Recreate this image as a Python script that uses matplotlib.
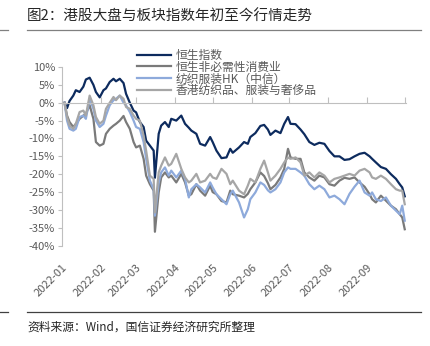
import pandas as pd
import matplotlib
matplotlib.use('Agg')
import matplotlib.pyplot as plt
import matplotlib.dates as mdates
from matplotlib.ticker import FuncFormatter

plt.rcParams['font.family'] = ['Noto Sans CJK SC', 'DejaVu Sans']

# sample dates (roughly every 2-4 days)
dates = pd.to_datetime([
    '2022-01-03', '2022-01-05', '2022-01-07', '2022-01-10', '2022-01-12',
    '2022-01-15', '2022-01-18', '2022-01-20', '2022-01-23', '2022-01-26',
    '2022-01-28', '2022-01-31', '2022-02-03', '2022-02-05', '2022-02-08',
    '2022-02-11', '2022-02-13', '2022-02-16', '2022-02-19', '2022-02-21',
    '2022-02-24', '2022-02-27', '2022-03-01', '2022-03-04', '2022-03-07',
    '2022-03-09', '2022-03-12', '2022-03-15', '2022-03-16', '2022-03-19',
    '2022-03-21', '2022-03-24', '2022-03-27', '2022-03-29', '2022-04-02',
    '2022-04-06', '2022-04-09', '2022-04-12', '2022-04-14', '2022-04-18',
    '2022-04-21', '2022-04-25', '2022-04-29', '2022-05-01', '2022-05-04',
    '2022-05-08', '2022-05-12', '2022-05-15', '2022-05-17',
    '2022-05-22', '2022-05-26', '2022-05-29', '2022-05-31', '2022-06-04',
    '2022-06-08', '2022-06-11', '2022-06-14', '2022-06-16', '2022-06-20',
    '2022-06-24', '2022-06-27', '2022-06-30', '2022-07-02', '2022-07-06',
    '2022-07-10', '2022-07-13', '2022-07-17', '2022-07-21', '2022-07-25',
    '2022-07-29', '2022-08-02', '2022-08-06', '2022-08-10', '2022-08-14',
    '2022-08-18', '2022-08-22', '2022-08-26', '2022-08-30', '2022-09-03',
    '2022-09-05', '2022-09-08', '2022-09-12', '2022-09-16', '2022-09-20',
    '2022-09-24', '2022-09-27', '2022-09-29', '2022-10-01',
])

hsi = [0, -1.5, 0.5, 2, 3.5, 3, 4.5, 6.5, 7, 5,
       3, 1.5, 3.5, 4, 5.8, 6.7, 6, 6.7, 5.5, 2.5,
       0, -2.2, -2.7, -5.4, -6.8, -10.6, -12, -13.4, -21, -8.7,
       -6.4, -5.4, -6.8, -4.5, -5, -3.6, -5.9, -7, -7.8, -8.7,
       -11.5, -12, -9.6, -11, -13.4, -15.5, -15.3, -12.9, -14,
       -12.5, -11, -11.5, -9.6, -8.5, -6.5, -6.2, -7.5, -9, -7.8,
       -8.5, -5.9, -4, -5.9, -6, -7.5, -8.8, -11, -11.8, -11.2,
       -11.5, -13.5, -15, -15, -16, -15.8, -15, -14.3, -14, -15,
       -15.7, -16.7, -18, -18.5, -20, -21.3, -22.8, -23.7, -26.2]

disc = [0, -3.6, -5.4, -6.8, -5.9, -4.5, -3.6, -3.1, -0.7, -4.5,
        -11, -12, -11.5, -8.7, -7.3, -6.4, -5.9, -5, -3.7, -5.4,
        -7.3, -11, -12.5, -12, -15.7, -20.4, -22.8, -24.6, -36.1, -25.1,
        -20.9, -19.5, -20.9, -20.4, -22.3, -19.9, -22.3, -26, -25.6, -22.8,
        -24.6, -26, -23.2, -25, -25.6, -27.5, -27.9, -24.6, -25.6,
        -26, -26.5, -25.5, -24.2, -22.3, -19.5, -20.5, -22.5, -24.2, -23,
        -20.9, -18.5, -12.9, -15.3, -15.7, -15.7, -19.5, -20.9, -21.8, -20.4,
        -20.9, -22.8, -23.2, -21.8, -21, -21.3, -20.9, -22.3, -23.5, -25.6,
        -27, -27.9, -26, -27.4, -28.8, -29.8, -31.2, -32.1, -35.4]

textile_hk = [0, -5, -7.3, -7.8, -7.3, -4, -3.6, -4.5, 1.1, -1.7,
              -5, -6.8, -5.9, -3.6, -0.7, 0.7, 1.1, 2, 0, -0.7,
              -2.6, -5, -6.8, -7.3, -11, -15.7, -21.8, -24.2, -31.6, -22.3,
              -19.5, -18.1, -20.4, -19, -20.9, -19, -21.3, -26.5, -24.2, -22.8,
              -23.7, -25.1, -22.3, -23.7, -25.6, -27, -28.4, -25.6, -24.6,
              -27.9, -32.1, -29.8, -27, -25.1, -22.3, -23, -24.5, -25.1, -24.2,
              -22.3, -19.5, -18.1, -18.5, -18.5, -19.5, -20.4, -22.8, -24.2, -23.2,
              -24.2, -26.5, -26, -27, -28.4, -25.5, -23.5, -21.8, -25.1, -26,
              -25.1, -27, -27.5, -26.5, -28.8, -30.2, -31.2, -28.8, -33]

hk_textile = [0, -4, -6.4, -7.3, -5.9, -2.6, -2.2, -3.6, 2, -0.7,
              -4, -5.9, -5, -1.7, 0, 1.6, 0.7, 2, 1.1, -1.2,
              -1.7, -3.6, -4.5, -5, -9.2, -13.4, -20.4, -21.3, -30.7, -19.5,
              -17.6, -15.3, -17.6, -17.1, -14.3, -18.5, -20.9, -22.3, -21.8, -19.9,
              -22.3, -21.8, -19.9, -20.9, -21.3, -18.5, -19.9, -22.8, -21.8,
              -24.6, -25.6, -23.2, -21.3, -22.3, -18.5, -16.2, -19.5, -21.8, -20.4,
              -18.5, -16.7, -15.3, -15.7, -15.3, -16.7, -20.4, -19.5, -20.9, -19.5,
              -20.4, -22.3, -21.3, -20.9, -20.4, -19.9, -20.4, -19, -18.5, -19.5,
              -20.9, -21.3, -20.4, -21.3, -22.8, -24.2, -24.6, -24.6, -28.4]

labels = ['恒生指数', '恒生非必需性消费业', '纺织服装HK（中信）', '香港纺织品、服装与奢侈品']
colors = ['#0d2b5e', '#7a7a7a', '#8eaadb', '#a6a6a6']

fig = plt.figure(figsize=(4.31, 3.46), dpi=100)
ax = fig.add_axes([0.1439, 0.2899, 0.7981, 0.5165])

for vals, lab, c in zip([hsi, disc, textile_hk, hk_textile], labels, colors):
    ax.plot(dates, vals, color=c, lw=1.6, label=lab)

ax.set_ylim(-40, 10)
ax.set_xlim(pd.Timestamp('2022-01-01'), pd.Timestamp('2022-10-02'))
ax.set_yticks(range(-40, 11, 5))
ax.yaxis.set_major_formatter(FuncFormatter(lambda v, p: '%d%%' % v))
ax.tick_params(axis='y', direction='out', length=3, width=0.8, color='#bfbfbf',
               labelsize=8, labelcolor='#595959', pad=2)

for s in ['top', 'right']:
    ax.spines[s].set_visible(False)
ax.spines['left'].set_color('#bfbfbf')
ax.spines['bottom'].set_color('#bfbfbf')
ax.spines['bottom'].set_position(('data', 0))

months = pd.date_range('2022-01-01', '2022-10-01', freq='MS')
ax.set_xticks(months)
ax.tick_params(axis='x', direction='in', length=4, width=0.8, color='#bfbfbf',
               labelbottom=False)

# date labels at the bottom of the plot area
sec = ax.secondary_xaxis('bottom')
sec.set_xticks(months[:-1])
sec.xaxis.set_major_formatter(mdates.DateFormatter('%Y-%m'))
sec.spines['bottom'].set_visible(False)
sec.tick_params(length=0, labelsize=8, labelcolor='#595959', pad=12)
for t in sec.get_xticklabels():
    t.set_rotation(45)
    t.set_ha('right')
    t.set_rotation_mode('anchor')

leg = fig.legend(loc='upper left', bbox_to_anchor=(0.318, 0.859), frameon=False,
                 fontsize=8.5, handlelength=2.9, handletextpad=0.4,
                 labelspacing=-0.1, borderpad=0, borderaxespad=0)
for t in leg.get_texts():
    t.set_color('#595959')

# header / footer
fig.text(27 / 431, 1 - 17 / 346, '图2：港股大盘与板块指数年初至今行情走势',
         fontsize=10.5, color='#262626', va='center', ha='left')
fig.add_artist(plt.Line2D([27 / 431, 421 / 431], [1 - 30 / 346] * 2, color='#808080', lw=0.9))
fig.add_artist(plt.Line2D([0, 8 / 431], [1 - 30 / 346] * 2, color='#808080', lw=0.9))
fig.add_artist(plt.Line2D([27 / 431, 421 / 431], [1 - 312 / 346] * 2, color='#404040', lw=0.9))
fig.add_artist(plt.Line2D([0, 8 / 431], [1 - 312 / 346] * 2, color='#404040', lw=0.9))
fig.text(27 / 431, 1 - 327 / 346, '资料来源：Wind，国信证券经济研究所整理',
         fontsize=8.5, color='#262626', va='center', ha='left')

plt.savefig('out.png', dpi=100)
